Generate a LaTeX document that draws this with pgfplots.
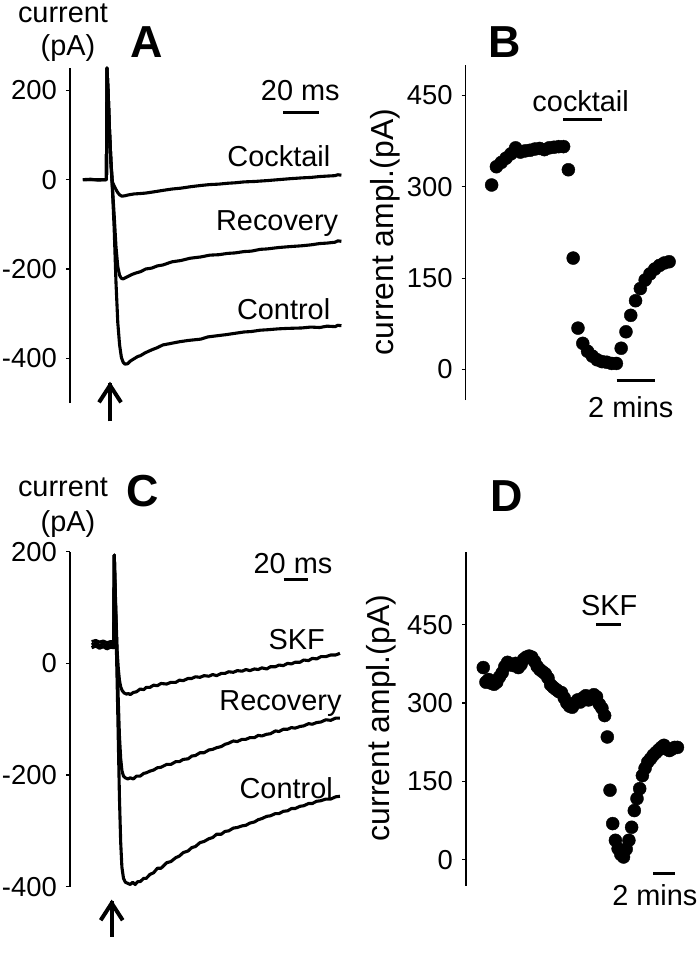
\documentclass[border=0pt]{standalone}
\usepackage{pgfplots}
\pgfplotsset{compat=1.18}
\usepackage{fontspec}
\setmainfont{Liberation Sans}
\newcommand\tk{\fontsize{27.5}{30}\selectfont}
\newcommand\an{\fontsize{29}{32}\selectfont}
\newcommand\yl{\fontsize{32}{36}\selectfont}
\newcommand\pl{\fontsize{45}{50}\selectfont\bfseries}
\pgfplotsset{
  panel/.style={scale only axis, axis x line=none, axis y line=left,
    axis line style={-, line width=1.2bp, black},
    ytick align=outside, major tick length=4bp,
    tick style={line width=1.2bp, black},
    yticklabel style={font=\tk, anchor=east, inner sep=0pt, xshift=-9bp},
    clip=false, anchor=north west},
  trace/.style={black, line width=3.1bp, line join=round, no marks},
  dots/.style={only marks, mark=*, mark size=6.5bp, black, mark options={fill=black, draw=black}},
}
\tikzset{shaft/.style={line width=4bp}, head/.style={line width=4bp, line join=miter, line cap=butt}}
\begin{document}
\begin{tikzpicture}
\useasboundingbox (0,0) rectangle (700bp,-968bp);
% ---------- A ----------
\begin{axis}[panel, at={(70bp,-68bp)}, width=275bp, height=335bp,
  xmin=-20.5, xmax=132, ymin=-500, ymax=250,
  ytick={-400,-200,0,200}, yticklabels={-400,-200,0,200}]
\addplot[trace] coordinates {(-13.3,0) (-9,1) (-5,-1) (-0.3,0) (0,250) (0.7,190) (1.4,110) (2.2,40) (3,-20) (4,-110) (5,-230) (6,-320) (7,-370) (8,-398) (9,-409) (10,-413) (11.5,-412) (13,-406) (15,-401) (17,-396) (18.6,-394) (21,-388) (24.8,-381) (28,-376) (31,-370) (35,-367) (40,-363) (45,-360) (52,-357) (56,-352) (62,-349) (66,-347) (71,-344) (76,-341) (80,-340) (85,-337) (89,-336) (95,-334) (100,-333) (108,-332) (113,-330) (118,-331) (122,-328) (126.5,-329) (128,-326) (130,-327)};
\addplot[trace] coordinates {(-13.3,0) (-0.3,0) (0,250) (0.7,190) (1.4,110) (2.2,40) (3,-15) (4,-80) (5,-150) (6,-195) (7,-214) (8,-221) (9,-222) (10,-220) (12,-216) (14,-212) (16,-209) (18.6,-206) (21.5,-200) (24.8,-198) (28,-193) (31,-191) (36,-184) (41,-181) (46,-176) (52,-173) (57,-169) (62,-168) (67,-165) (71,-164) (76,-161) (80,-160) (85,-156) (89,-155) (95,-152) (101,-150) (108,-148) (113,-146) (118,-143) (122,-142) (126.5,-140) (128,-137) (130,-138)};
\addplot[trace] coordinates {(-13.3,0) (-0.3,0) (0,250) (0.7,190) (1.4,110) (2.2,40) (3,-5) (4,-14) (5,-22) (6,-29) (7,-34) (8.3,-37) (10,-36) (12,-34) (15,-32) (18.6,-31) (21.5,-30) (24.8,-28) (28,-26) (31,-24) (36,-21) (41,-19) (46,-16) (52,-13) (57,-11) (62,-10) (67,-8) (71,-7) (76,-5) (82,-4) (89,-2) (95,0) (101,2) (108,4) (113,5) (118,7) (122,8) (126.5,9) (128,11) (130,10)};
\node[font=\an, anchor=east, inner sep=0pt] at (axis cs:123.9,52) {Cocktail};
\node[font=\an, anchor=east, inner sep=0pt] at (axis cs:128.3,-98) {Recovery};
\node[font=\an, anchor=east, inner sep=0pt] at (axis cs:123.9,-290) {Control};
\node[font=\an, inner sep=0pt] at (axis cs:107.2,200) {20 ms};
\draw[line width=3.2bp] (axis cs:97.8,150) -- (axis cs:117.8,150);
\draw[shaft] (axis cs:1.7,-541) -- (axis cs:1.7,-456);
\draw[head] ([xshift=-11bp,yshift=-19bp]axis cs:1.7,-456) -- ([yshift=-2bp]axis cs:1.7,-456) -- ([xshift=11bp,yshift=-19bp]axis cs:1.7,-456);
\end{axis}
% ---------- B ----------
\begin{axis}[panel, at={(465.7bp,-65bp)}, width=214bp, height=335bp,
  xmin=-1.35, xmax=9.8, ymin=-50, ymax=500,
  ytick={0,150,300,450}, yticklabels={0,150,300,450}]
\addplot[dots] coordinates {(0,303) (0.25,333) (0.5,340) (0.75,347) (1,354) (1.25,364) (1.5,357) (1.75,359) (2,360) (2.25,362) (2.5,363) (2.75,361) (3,364) (3.25,365) (3.5,366) (3.75,366) (4,328) (4.25,183) (4.5,68) (4.75,43) (5,30) (5.25,22) (5.5,16) (5.75,13) (6,12) (6.25,10) (6.5,10) (6.75,35) (7,62) (7.25,89) (7.5,113) (7.75,133) (8,147) (8.25,157) (8.5,165) (8.75,171) (9,175) (9.25,177)};
\node[font=\an, inner sep=0pt] at (axis cs:4.64,440) {cocktail};
\draw[line width=3.2bp] (axis cs:3.73,410) -- (axis cs:5.73,410);
\node[font=\an, inner sep=0pt] at (axis cs:7.25,-61) {2 mins};
\draw[line width=3.2bp] (axis cs:6.51,-18) -- (axis cs:8.51,-18);
\end{axis}
% ---------- C ----------
\begin{axis}[panel, at={(70bp,-551.7bp)}, width=275bp, height=335bp,
  xmin=-36, xmax=187.6, ymin=-400, ymax=200,
  ytick={-400,-200,0,200}, yticklabels={-400,-200,0,200}]
\addplot[trace] coordinates {(-18.4,28) (-15,31) (-12,27) (-9,30) (-6,26) (-3,29) (-0.5,28) (0,194) (0.8,120) (1.6,40) (2.4,-40) (3.3,-140) (4.2,-240) (5.2,-320) (6.2,-365) (7.5,-385) (9,-392) (11,-394) (13,-396) (15,-392) (17,-396) (19,-391) (21,-391) (24,-385) (26,-385) (29,-378) (32,-375) (35,-367) (38,-367) (42.6,-357) (46,-355) (50,-348) (53,-345) (56,-339) (60,-336) (63,-330) (66,-328) (69.7,-321) (73,-319) (77,-314) (80,-312) (83.2,-306) (87,-306) (90,-301) (93,-300) (96.8,-295) (100,-294) (104,-291) (107,-290) (110.3,-286) (114,-284) (117,-280) (120,-278) (123.9,-274) (127,-273) (131,-269) (134,-269) (137.4,-265) (141,-264) (144,-260) (147,-260) (151,-256) (154,-255) (158,-251) (161,-251) (164.5,-247) (168,-246) (172,-243) (176,-243) (180,-239) (183.5,-238)};
\addplot[trace] coordinates {(-18.4,33) (-15,36) (-12,32) (-9,35) (-6,31) (-3,34) (-0.5,33) (0,194) (0.8,120) (1.6,60) (2.4,0) (3.3,-70) (4.2,-130) (5.2,-170) (6.2,-192) (7.5,-202) (9,-205) (11,-207) (13,-205) (15.5,-207) (18,-202) (21,-202) (24,-197) (26,-196) (29,-193) (32,-191) (35,-187) (38,-186) (42.6,-181) (46,-181) (50,-176) (53,-176) (56,-172) (60,-171) (63,-166) (66,-165) (69.7,-160) (73,-160) (77,-155) (80,-154) (83.2,-151) (87,-149) (90,-145) (93,-143) (96.8,-139) (100,-140) (104,-136) (107,-136) (110.3,-133) (114,-133) (117,-129) (120,-130) (123.9,-127) (127,-126) (131,-121) (134,-122) (137.4,-118) (141,-118) (144,-115) (147,-116) (151,-113) (154,-112) (158,-108) (161,-109) (164.5,-106) (168,-105) (172,-101) (176,-102) (180,-98) (183.5,-98)};
\addplot[trace] coordinates {(-18.4,39) (-15,41) (-12,38) (-9,40) (-6,37) (-3,39) (-0.5,38) (0,194) (0.8,130) (1.6,70) (2.4,20) (3.3,-10) (4.2,-30) (5.2,-42) (6.5,-49) (8,-53) (10,-55) (11.5,-54) (13,-56) (15.5,-52) (18,-51) (21,-46) (24,-47) (26,-43) (29,-43) (32,-39) (35,-40) (38,-36) (42.6,-37) (46,-34) (50,-34) (53,-30) (56,-31) (60,-27) (63,-27) (66,-24) (69.7,-25) (73,-22) (77,-23) (80,-20) (83.2,-22) (87,-18) (90,-18) (93,-15) (96.8,-16) (100,-13) (104,-14) (107,-11) (110.3,-13) (114,-10) (117,-11) (120,-8) (123.9,-10) (127,-6) (131,-6) (134,-3) (137.4,-4) (141,0) (144,-1) (147,2) (151,2) (154,6) (158,5) (161,9) (164.5,8) (168,12) (172,12) (176,15) (180,15) (183.5,18)};
\node[font=\an, anchor=east, inner sep=0pt] at (axis cs:171.3,42) {SKF};
\node[font=\an, anchor=east, inner sep=0pt] at (axis cs:184.9,-72) {Recovery};
\node[font=\an, anchor=east, inner sep=0pt] at (axis cs:177.8,-224) {Control};
\node[font=\an, inner sep=0pt] at (axis cs:145.3,179) {20 ms};
\draw[line width=3.2bp] (axis cs:137.6,150) -- (axis cs:157.6,150);
\draw[shaft] (axis cs:-2.1,-490) -- (axis cs:-2.1,-426);
\draw[head] ([xshift=-11bp,yshift=-19bp]axis cs:-2.1,-426) -- ([yshift=-2bp]axis cs:-2.1,-426) -- ([xshift=11bp,yshift=-19bp]axis cs:-2.1,-426);
\end{axis}
% ---------- D ----------
\begin{axis}[panel, at={(466bp,-551.7bp)}, width=219bp, height=334bp,
  xmin=-1.6, xmax=18.7, ymin=-50, ymax=590,
  ytick={0,150,300,450}, yticklabels={0,150,300,450}]
\addplot[dots] coordinates {(0,368) (0.25,340) (0.5,345) (0.75,338) (1,336) (1.25,340) (1.5,350) (1.75,358) (2,370) (2.25,378) (2.5,374) (2.75,372) (3,376) (3.25,368) (3.5,374) (3.75,384) (4,388) (4.25,390) (4.5,388) (4.75,380) (5,370) (5.25,364) (5.5,360) (5.75,356) (6,348) (6.25,335) (6.5,330) (6.75,326) (7,322) (7.25,320) (7.5,310) (7.75,300) (8,294) (8.25,292) (8.5,300) (8.75,306) (9,302) (9.25,310) (9.5,314) (9.75,306) (10,308) (10.25,316) (10.5,312) (10.75,298) (11,290) (11.25,276) (11.5,235) (11.75,133) (12,69) (12.25,37) (12.5,21) (12.75,10) (13,5) (13.25,20) (13.5,37) (13.75,62) (14,94) (14.25,117) (14.5,136) (14.75,161) (15,175) (15.25,187) (15.5,193) (15.75,200) (16,205) (16.25,210) (16.5,215) (16.75,219) (17,212) (17.25,209) (17.5,212) (17.75,215) (18,215)};
\node[font=\an, inner sep=0pt] at (axis cs:11.67,487) {SKF};
\draw[line width=3.2bp] (axis cs:10.43,450) -- (axis cs:12.81,450);
\node[font=\an, inner sep=0pt] at (axis cs:15.9,-68) {2 mins};
\draw[line width=3.2bp] (axis cs:15.74,-26) -- (axis cs:17.75,-26);
\end{axis}
% ---------- free labels ----------
\node[font=\an, anchor=base] at (63bp,-22bp) {current};
\node[font=\an, anchor=base] at (68bp,-55bp) {(pA)};
\node[font=\an, anchor=base] at (63bp,-496bp) {current};
\node[font=\an, anchor=base] at (68bp,-531.7bp) {(pA)};
\node[font=\pl, anchor=base] at (147bp,-57bp) {A};
\node[font=\pl, anchor=base] at (505bp,-57bp) {B};
\node[font=\pl, anchor=base] at (143bp,-506bp) {C};
\node[font=\pl, anchor=base] at (506.7bp,-511.7bp) {D};
\node[font=\yl, rotate=90] at (385bp,-232bp) {current ampl.(pA)};
\node[font=\yl, rotate=90] at (381bp,-718bp) {current ampl.(pA)};
\end{tikzpicture}
\end{document}
